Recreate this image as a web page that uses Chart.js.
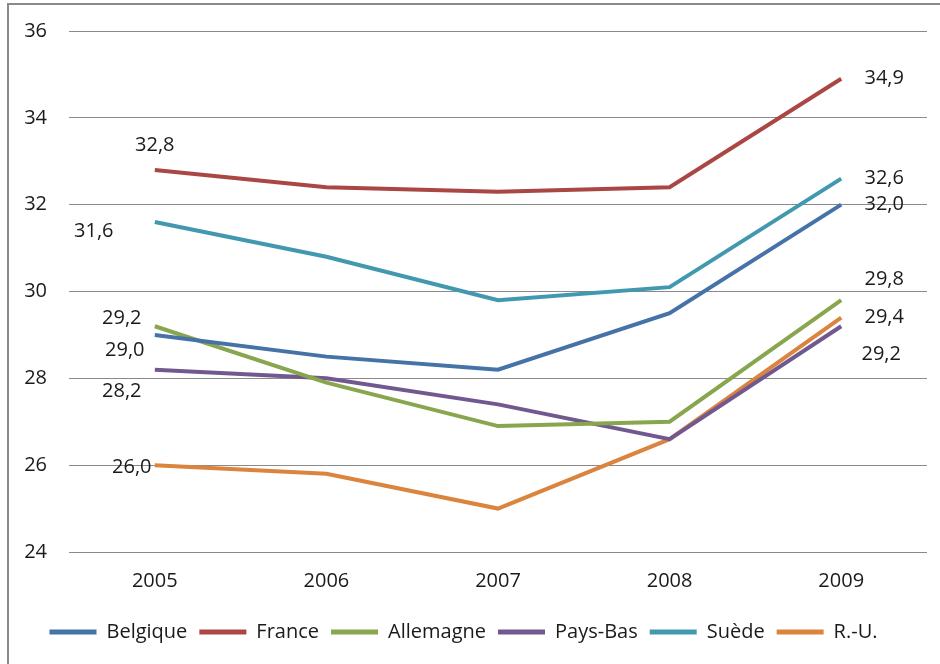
<!DOCTYPE html>
<html>
<head>
<meta charset="utf-8">
<script src="https://cdn.jsdelivr.net/npm/chart.js@4/dist/chart.umd.min.js"></script>
<style>
  body { margin: 0; background: #fff; }
  #wrap { position: relative; width: 940px; height: 664px; overflow: hidden; }
  #frame {
    position: absolute; left: 7px; top: 3px; width: 960px; height: 700px;
    border-left: 2px solid #8a8a8a; border-top: 2px solid #8a8a8a;
  }
  canvas { position: absolute; left: 0; top: -3px; }
</style>
</head>
<body>
<div id="wrap">
  <div id="frame"></div>
  <canvas id="chart" width="940" height="667"></canvas>
</div>
<script>
const years = ['2005', '2006', '2007', '2008', '2009'];

const belgique  = [29.0, 28.5, 28.2, 29.5, 32.0];
const france    = [32.8, 32.4, 32.3, 32.4, 34.9];
const allemagne = [29.2, 27.9, 26.9, 27.0, 29.8];
const paysBas   = [28.2, 28.0, 27.4, 26.6, 29.2];
const suede     = [31.6, 30.8, 29.8, 30.1, 32.6];
const ru        = [26.0, 25.8, 25.0, 26.6, 29.4];

const yMin = 24;
const yMax = 36;
const yStep = 2;

// label offsets (px) for the first and last point of each series
const firstOffsets = [[-30, 15], [0, -25], [-33, -8], [-33, 22], [-61, 9], [-23, 2]];
const lastOffsets  = [[43, 0], [43, 0], [43, -21], [40, 28], [43, 0], [43, 0]];

const series = [
  { label: 'Belgique', data: belgique, color: '#4572A7' },
  { label: 'France', data: france, color: '#AA4643' },
  { label: 'Allemagne', data: allemagne, color: '#89A54E' },
  { label: 'Pays-Bas', data: paysBas, color: '#71588F' },
  { label: 'Suède', data: suede, color: '#4198AF' },
  { label: 'R.-U.', data: ru, color: '#DB843D' }
];

function fmt(v) {
  return v.toFixed(1).replace('.', ',');
}

const endLabels = {
  id: 'endLabels',
  afterDatasetsDraw(chart) {
    const ctx = chart.ctx;
    ctx.save();
    ctx.font = '20px "Open Sans"';
    ctx.fillStyle = '#1a1a1a';
    ctx.textAlign = 'center';
    ctx.textBaseline = 'middle';
    chart.data.datasets.forEach((ds, i) => {
      const pts = chart.getDatasetMeta(i).data;
      const first = pts[0];
      const last = pts[pts.length - 1];
      ctx.fillText(fmt(ds.data[0]), first.x + firstOffsets[i][0], first.y + firstOffsets[i][1]);
      ctx.fillText(fmt(ds.data[ds.data.length - 1]), last.x + lastOffsets[i][0], last.y + lastOffsets[i][1]);
    });
    ctx.restore();
  }
};

new Chart(document.getElementById('chart'), {
  type: 'line',
  data: {
    labels: years,
    datasets: series.map(s => ({
      label: s.label,
      data: s.data,
      borderColor: s.color,
      backgroundColor: s.color,
      borderWidth: 4,
      pointRadius: 0,
      tension: 0,
      fill: false
    }))
  },
  options: {
    responsive: false,
    animation: false,
    layout: { padding: { top: 27, right: 13, left: 0, bottom: 12 } },
    plugins: {
      tooltip: { enabled: false },
      legend: {
        position: 'bottom',
        labels: {
          boxWidth: 47,
          boxHeight: 5,
          padding: 12,
          color: '#1a1a1a',
          font: { family: '"Open Sans"', size: 20 },
          generateLabels(chart) {
            const items = Chart.defaults.plugins.legend.labels.generateLabels(chart);
            items.forEach(it => { it.lineWidth = 0; });
            return items;
          }
        }
      }
    },
    scales: {
      x: {
        offset: true,
        grid: { display: false, drawTicks: false },
        border: { display: false },
        ticks: { color: '#1a1a1a', padding: 17, font: { family: '"Open Sans"', size: 20 } }
      },
      y: {
        min: yMin,
        max: yMax,
        afterFit(scale) { scale.width = 69; },
        grid: { color: '#8a8a8a', lineWidth: 1, drawTicks: false },
        border: { display: false },
        ticks: {
          stepSize: yStep,
          padding: 22,
          color: '#1a1a1a',
          font: { family: '"Open Sans"', size: 20 }
        }
      }
    }
  },
  plugins: [endLabels]
});
</script>
</body>
</html>
